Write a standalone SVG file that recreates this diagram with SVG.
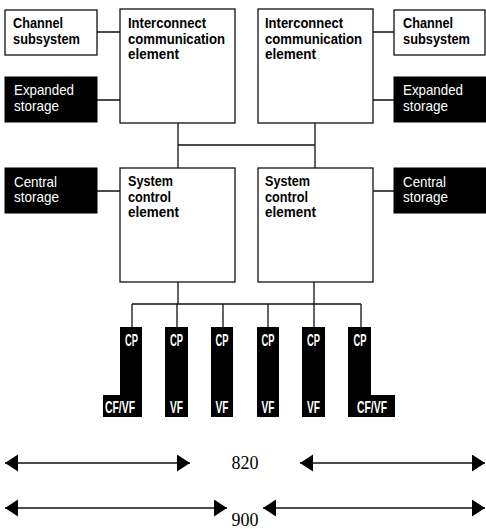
<svg xmlns="http://www.w3.org/2000/svg" width="486" height="529" viewBox="0 0 486 529">
<style>
.w{fill:#fff;stroke:#111;stroke-width:1.3}
.b{fill:#000;stroke:#000;stroke-width:1}
.t{font-family:"Liberation Sans",Arial,sans-serif;font-weight:bold;font-size:15px;fill:#000}
.tw{font-family:"Liberation Sans",Arial,sans-serif;font-size:14.5px;fill:#fff}
.tc{font-family:"Liberation Sans",Arial,sans-serif;font-weight:bold;font-size:17px;fill:#fff}
.c{fill:none;stroke:#111;stroke-width:1.3}
.a{fill:none;stroke:#111;stroke-width:1.5}
.n{font-family:"Liberation Serif","Times New Roman",serif;font-size:18px;fill:#000;text-anchor:middle}
</style>
<defs>
<marker id="ah" markerUnits="userSpaceOnUse" markerWidth="14" markerHeight="18" refX="13" refY="8.5" orient="auto-start-reverse">
<path d="M0,0 L13,8.5 L0,17 Z" fill="#000"/>
</marker>
</defs>
<g id="connectors">
<path class="c" d="M97,32 H120 M97,100 H120 M373,32 H394 M373,100 H394"/>
<path class="c" d="M178,123 V168 M315,123 V168 M178,145 H315"/>
<path class="c" d="M97,191 H120 M373,191 H394"/>
<path class="c" d="M178,282 V304 M314,282 V304 M132,304 H361 M132,304 V327 M177,304 V327 M223,304 V327 M268,304 V327 M314,304 V327 M361,304 V327"/>
</g>
<g id="channel-left"><rect class="w" x="5" y="10" width="92" height="45"/><text class="t" x="13" y="28" textLength="50" lengthAdjust="spacingAndGlyphs">Channel</text><text class="t" x="13" y="44" textLength="67" lengthAdjust="spacingAndGlyphs">subsystem</text></g>
<g id="ice-left"><rect class="w" x="120" y="9" width="115" height="114"/><text class="t" x="128" y="28" textLength="78" lengthAdjust="spacingAndGlyphs">Interconnect</text><text class="t" x="128" y="43.5" textLength="97" lengthAdjust="spacingAndGlyphs">communication</text><text class="t" x="128" y="59" textLength="51" lengthAdjust="spacingAndGlyphs">element</text></g>
<g id="ice-right"><rect class="w" x="258" y="9" width="115" height="114"/><text class="t" x="265" y="28" textLength="78" lengthAdjust="spacingAndGlyphs">Interconnect</text><text class="t" x="265" y="43.5" textLength="97" lengthAdjust="spacingAndGlyphs">communication</text><text class="t" x="265" y="59" textLength="51" lengthAdjust="spacingAndGlyphs">element</text></g>
<g id="channel-right"><rect class="w" x="394" y="10" width="91" height="45"/><text class="t" x="403" y="28" textLength="50" lengthAdjust="spacingAndGlyphs">Channel</text><text class="t" x="403" y="44" textLength="67" lengthAdjust="spacingAndGlyphs">subsystem</text></g>
<g id="expanded-left"><rect class="b" x="5" y="77" width="92" height="45"/><text class="tw" x="14" y="95" textLength="60" lengthAdjust="spacingAndGlyphs">Expanded</text><text class="tw" x="14" y="110.5" textLength="45" lengthAdjust="spacingAndGlyphs">storage</text></g>
<g id="expanded-right"><rect class="b" x="394" y="77" width="92" height="45"/><text class="tw" x="403" y="95" textLength="60" lengthAdjust="spacingAndGlyphs">Expanded</text><text class="tw" x="403" y="110.5" textLength="45" lengthAdjust="spacingAndGlyphs">storage</text></g>
<g id="central-left"><rect class="b" x="5" y="168" width="92" height="45"/><text class="tw" x="14" y="186.5" textLength="43" lengthAdjust="spacingAndGlyphs">Central</text><text class="tw" x="14" y="202" textLength="45" lengthAdjust="spacingAndGlyphs">storage</text></g>
<g id="central-right"><rect class="b" x="394" y="168" width="92" height="45"/><text class="tw" x="403" y="186.5" textLength="43" lengthAdjust="spacingAndGlyphs">Central</text><text class="tw" x="403" y="202" textLength="45" lengthAdjust="spacingAndGlyphs">storage</text></g>
<g id="sce-left"><rect class="w" x="120" y="168" width="115" height="114"/><text class="t" x="128" y="186" textLength="45" lengthAdjust="spacingAndGlyphs">System</text><text class="t" x="128" y="201.5" textLength="43" lengthAdjust="spacingAndGlyphs">control</text><text class="t" x="128" y="217" textLength="51" lengthAdjust="spacingAndGlyphs">element</text></g>
<g id="sce-right"><rect class="w" x="258" y="168" width="115" height="114"/><text class="t" x="265" y="186" textLength="45" lengthAdjust="spacingAndGlyphs">System</text><text class="t" x="265" y="201.5" textLength="43" lengthAdjust="spacingAndGlyphs">control</text><text class="t" x="265" y="217" textLength="51" lengthAdjust="spacingAndGlyphs">element</text></g>
<g id="cp1"><path fill="#000" d="M120,327 H142 V417 H103 V395 H120 Z"/><text class="tc" x="125" y="346" textLength="13" lengthAdjust="spacingAndGlyphs">CP</text><text class="tc" x="105" y="413" textLength="30" lengthAdjust="spacingAndGlyphs">CF/VF</text></g>
<g id="cp2"><rect fill="#000" x="165" y="327" width="23" height="90"/><text class="tc" x="170" y="346" textLength="13" lengthAdjust="spacingAndGlyphs">CP</text><text class="tc" x="170" y="413" textLength="13" lengthAdjust="spacingAndGlyphs">VF</text></g>
<g id="cp3"><rect fill="#000" x="211" y="327" width="22" height="90"/><text class="tc" x="215.5" y="346" textLength="13" lengthAdjust="spacingAndGlyphs">CP</text><text class="tc" x="215.5" y="413" textLength="13" lengthAdjust="spacingAndGlyphs">VF</text></g>
<g id="cp4"><rect fill="#000" x="257" y="327" width="22" height="90"/><text class="tc" x="261.5" y="346" textLength="13" lengthAdjust="spacingAndGlyphs">CP</text><text class="tc" x="261.5" y="413" textLength="13" lengthAdjust="spacingAndGlyphs">VF</text></g>
<g id="cp5"><rect fill="#000" x="302" y="327" width="23" height="90"/><text class="tc" x="307" y="346" textLength="13" lengthAdjust="spacingAndGlyphs">CP</text><text class="tc" x="307" y="413" textLength="13" lengthAdjust="spacingAndGlyphs">VF</text></g>
<g id="cp6"><path fill="#000" d="M348,327 H371 V395 H395 V417 H348 Z"/><text class="tc" x="353.5" y="346" textLength="13" lengthAdjust="spacingAndGlyphs">CP</text><text class="tc" x="357" y="413" textLength="30" lengthAdjust="spacingAndGlyphs">CF/VF</text></g>
<g id="dimensions">
<line class="a" x1="5" y1="463" x2="190" y2="463" marker-start="url(#ah)" marker-end="url(#ah)"/>
<line class="a" x1="300" y1="463" x2="485" y2="463" marker-start="url(#ah)" marker-end="url(#ah)"/>
<text class="n" x="245" y="469">820</text>
<line class="a" x1="5" y1="508" x2="227" y2="508" marker-start="url(#ah)" marker-end="url(#ah)"/>
<line class="a" x1="263" y1="508" x2="485" y2="508" marker-start="url(#ah)" marker-end="url(#ah)"/>
<text class="n" x="245" y="526">900</text>
</g>
</svg>
